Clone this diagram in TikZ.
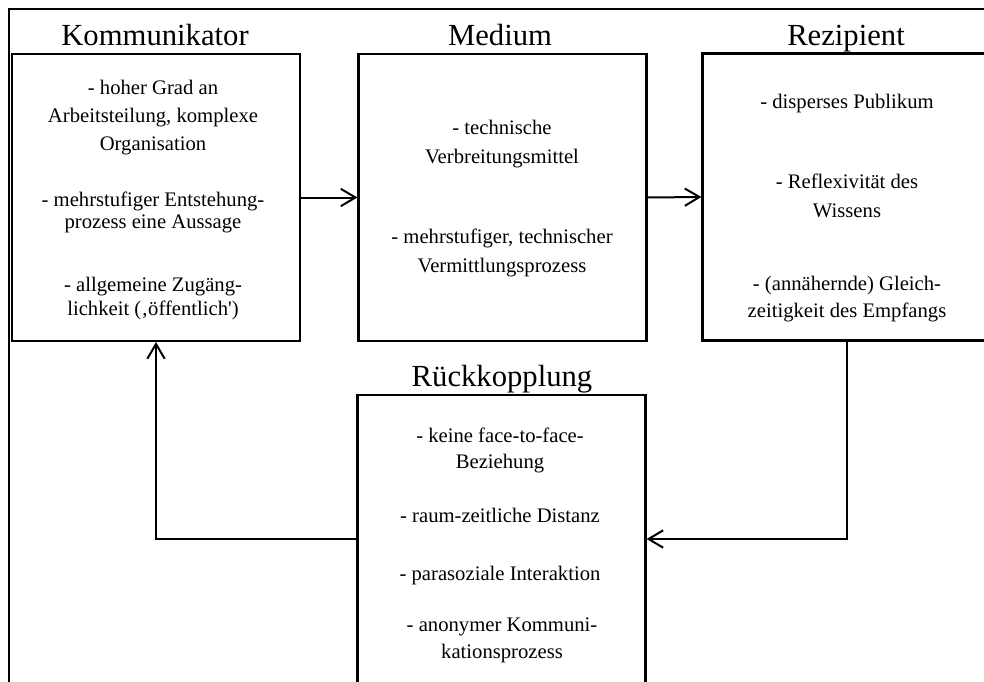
\documentclass[tikz,border=0pt]{standalone}
\usepackage{fontspec}
\setmainfont{Liberation Serif}
\newfontfamily\plainserif{Liberation Serif}
\usetikzlibrary{arrows.meta}
\begin{document}
\begin{tikzpicture}[x=0.75pt,y=-0.75pt,
  box/.style={draw, line width=1.6pt, inner sep=0pt, minimum width=216pt, minimum height=215.25pt},
  ttl/.style={anchor=base, font=\fontsize{23}{27}\selectfont, inner sep=0pt},
  txt/.style={anchor=base, font=\fontsize{15.5}{19}\selectfont, inner sep=0pt},
  arr/.style={line width=1.5pt, -{Straight Barb[length=11pt,width=13pt]}},
  frame/.style={line width=1.5pt}]
\useasboundingbox (0,0) rectangle (984,681);
\clip (0,0) rectangle (984,681);

% outer frame
\draw[frame] (9,720) -- (9,9) -- (1010,9);

% boxes
\node[box] (kom) at (156,197.5) {};
\node[box] (med) at (502.5,197.5) {};
\node[box] (rez) at (846.5,197) {};
\node[box, minimum height=228.75pt] (rue) at (501.5,547.5) {};

% titles
\node[ttl] (komt) at (155,46) {Kommunikator};
\node[ttl] (medt) at (500,46) {Medium};
\node[ttl] (rezt) at (846,46) {Rezipient};
\node[ttl] (ruet) at (502,386) {Rückkopplung};

% Kommunikator
\node[txt] (k1) at (153,95) {- hoher Grad an};
\node[txt] (k2) at (153,123) {Arbeitsteilung, komplexe};
\node[txt] (k3) at (153,151) {Organisation};
\node[txt] (k4) at (153,206) {- mehrstufiger Entstehung-};
\node[txt] (k5) at (153,228) {prozess eine Aussage};
\node[txt] (k6) at (153,291) {- allgemeine Zugäng-};
\node[txt] (k7) at (153,315) {lichkeit (‚öffentlich{\plainserif'})};

% Medium
\node[txt] (m1) at (502,135) {- technische};
\node[txt] (m2) at (502,163) {Verbreitungsmittel};
\node[txt] (m3) at (502,243) {- mehrstufiger, technischer};
\node[txt] (m4) at (502,272) {Vermittlungsprozess};

% Rezipient
\node[txt] (r1) at (847,109) {- disperses Publikum};
\node[txt] (r2) at (847,188) {- Reflexivität des};
\node[txt] (r3) at (847,217) {Wissens};
\node[txt] (r4) at (847,290) {- (annähernde) Gleich-};
\node[txt] (r5) at (847,317) {zeitigkeit des Empfangs};

% Rueckkopplung
\node[txt] (f1) at (500,442) {- keine face-to-face-};
\node[txt] (f2) at (500,468) {Beziehung};
\node[txt] (f3) at (500,522) {- raum-zeitliche Distanz};
\node[txt] (f4) at (500,580) {- parasoziale Interaktion};
\node[txt] (f5) at (502,631) {- anonymer Kommuni-};
\node[txt] (f6) at (502,658) {kationsprozess};

% connectors
\coordinate (fb) at (0,539);
\draw[arr] (kom.east) -- (med.west);
\draw[arr] (med.east) -- (rez.west);
\draw[arr] (rez.south) |- (rue.east |- fb);
\draw[arr] (rue.west |- fb) -| (kom.south);
\end{tikzpicture}
\end{document}
